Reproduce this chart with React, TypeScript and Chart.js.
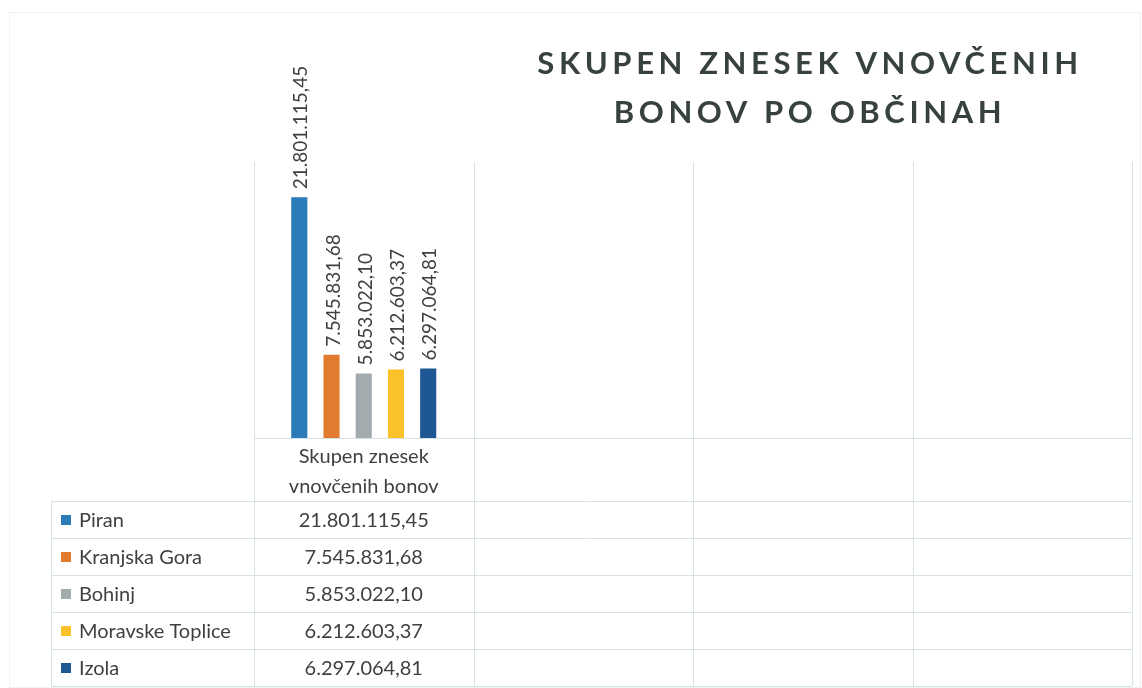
import React, { useEffect, useRef } from "react";
import { Chart, registerables } from "chart.js";

Chart.register(...registerables);

// ---- data ----
const categories: (string | string[])[] = [["Skupen znesek", "vnovčenih bonov"], "", "", ""];
const seriesNames = ["Piran", "Kranjska Gora", "Bohinj", "Moravske Toplice", "Izola"];
const seriesValues = [21801115.45, 7545831.68, 5853022.1, 6212603.37, 6297064.81];
const seriesColors = ["#2b7bb9", "#e27a30", "#a2acaf", "#fbc12b", "#1f5694"];
const titleLines = ["SKUPEN ZNESEK VNOVČENIH", "BONOV PO OBČINAH"];
const yMin = 0;
const yMax = 25000000;

function fmtSl(v: number): string {
  const [i, d] = v.toFixed(2).split(".");
  return i.replace(/\B(?=(\d{3})+(?!\d))/g, ".") + "," + d;
}

const FONT = "Lato, 'Open Sans', sans-serif";
const TEXT = "#404040";
const LINE = "#d6e2e5";

export default function App() {
  const ref = useRef<HTMLCanvasElement>(null);

  useEffect(() => {
    const canvas = ref.current!;

    const tablePlugin = {
      id: "excelTable",
      beforeDatasetsDraw(chart: any) {
        const ctx = chart.ctx as CanvasRenderingContext2D;
        const area = chart.chartArea;
        const n = categories.length;
        const catW = (area.right - area.left) / n;
        const tableLeft = 51;
        const headerBottom = 501;
        const rowH = 37;
        const tableBottom = headerBottom + rowH * seriesNames.length;
        ctx.save();
        ctx.strokeStyle = "#eef3f3";
        ctx.lineWidth = 1;
        ctx.strokeRect(9.5, 12.5, 1131, 675);
        ctx.strokeStyle = LINE;
        ctx.lineWidth = 1;
        ctx.beginPath();
        for (let k = 0; k <= n; k++) {
          const x = Math.round(area.left + k * catW) + 0.5;
          ctx.moveTo(x, area.top);
          ctx.lineTo(x, tableBottom);
        }
        ctx.moveTo(area.left, Math.round(area.bottom) + 0.5);
        ctx.lineTo(area.right, Math.round(area.bottom) + 0.5);
        for (let r = 0; r <= seriesNames.length; r++) {
          const y = headerBottom + r * rowH + 0.5;
          ctx.moveTo(tableLeft, y);
          ctx.lineTo(area.right, y);
        }
        ctx.moveTo(tableLeft + 0.5, headerBottom);
        ctx.lineTo(tableLeft + 0.5, tableBottom);
        ctx.stroke();
        ctx.restore();
      },
      afterDatasetsDraw(chart: any) {
        const ctx = chart.ctx as CanvasRenderingContext2D;
        const xScale = chart.scales.x;
        const headerBottom = 501;
        const rowH = 37;
        ctx.save();

        // data labels (rotated)
        ctx.fillStyle = TEXT;
        ctx.font = `19px ${FONT}`;
        ctx.textAlign = "left";
        ctx.textBaseline = "middle";
        chart.data.datasets.forEach((ds: any, di: number) => {
          const meta = chart.getDatasetMeta(di);
          const bar = meta.data[0];
          if (!bar) return;
          const v = ds.data[0];
          ctx.save();
          ctx.translate(bar.x + 2, bar.y - 8);
          ctx.rotate(-Math.PI / 2);
          ctx.fillText(fmtSl(v), 0, 0);
          ctx.restore();
        });

        // category header labels
        ctx.font = `20px ${FONT}`;
        ctx.textAlign = "center";
        ctx.textBaseline = "middle";
        categories.forEach((lab, i) => {
          const cx = xScale.getPixelForValue(i);
          const lines = Array.isArray(lab) ? lab : [lab];
          lines.forEach((ln, j) => {
            ctx.fillText(ln, cx, 457 + j * 30);
          });
        });

        // table rows
        seriesNames.forEach((name, r) => {
          const cy = headerBottom + r * rowH + rowH / 2;
          ctx.fillStyle = seriesColors[r];
          ctx.fillRect(61, Math.round(cy - 5), 10, 10);
          ctx.fillStyle = TEXT;
          ctx.textAlign = "left";
          ctx.fillText(name, 79, cy + 1);
          ctx.textAlign = "center";
          ctx.fillText(fmtSl(seriesValues[r]), xScale.getPixelForValue(0), cy + 1);
        });

        // title
        ctx.fillStyle = "#37423f";
        ctx.font = `bold 31px ${FONT}`;
        (ctx as any).letterSpacing = "4.6px";
        ctx.textAlign = "center";
        ctx.textBaseline = "alphabetic";
        const tx = 808;
        ctx.fillText(titleLines[0], tx + 2, 74);
        ctx.fillText(titleLines[1], tx + 2, 123);
        (ctx as any).letterSpacing = "0px";
        ctx.restore();
      },
    };

    const chart = new Chart(canvas, {
      type: "bar",
      data: {
        labels: categories as any,
        datasets: seriesNames.map((name, i) => ({
          label: name,
          data: categories.map((_, c) => (c === 0 ? seriesValues[i] : null)),
          backgroundColor: seriesColors[i],
          borderWidth: 0,
          categoryPercentage: 0.734,
          barPercentage: 0.5,
        })),
      },
      options: {
        responsive: true,
        maintainAspectRatio: false,
        animation: false,
        layout: { padding: { left: 254, right: 10, top: 162, bottom: 250 } },
        plugins: {
          legend: { display: false },
          title: { display: false },
          tooltip: { enabled: false },
        },
        scales: {
          x: { display: false },
          y: { display: false, min: yMin, max: yMax },
        },
      },
      plugins: [tablePlugin],
    });
    return () => chart.destroy();
  }, []);

  return (
    <div style={{ position: "fixed", left: 0, top: 0, width: 1142, height: 688, background: "#ffffff" }}>
      <canvas ref={ref} />
    </div>
  );
}
